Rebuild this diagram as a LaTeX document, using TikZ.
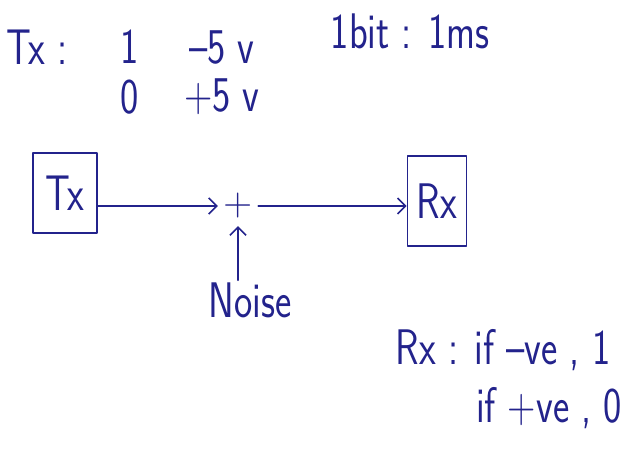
\documentclass[tikz,border=0pt]{standalone}
\usepackage{graphicx}
\usepackage{tikz}
\usetikzlibrary{arrows.meta,positioning}
\definecolor{pen}{RGB}{35,35,140}
\newcommand{\hw}[1]{\scalebox{0.97}[1.25]{#1}}

\begin{document}
\begin{tikzpicture}[x=1pt,y=-1pt,
  pen/.style={draw=pen,line width=1.6pt,line cap=round,line join=round},
  hand/.style={text=pen,font=\sffamily\fontsize{40}{44}\selectfont,inner sep=2pt},
  blk/.style={hand,pen},
  arr/.style={pen,-{Straight Barb[length=8pt,width=16pt,line width=1.6pt]}}]
  \useasboundingbox (0,0) rectangle (631,448);
  % Tx mapping and bit time
  \node[hand] (txmap) at (37,47) {\hw{Tx :}};
  \node[hand] (bitone) at (130,47) {\hw{1}};
  \node[hand] (vneg) at (222,47) {\hw{--5 v}};
  \node[hand] (bitzero) at (130,97) {\hw{0}};
  \node[hand] (vpos) at (222,97) {\hw{+5 v}};
  \node[hand] (bittime) at (410,31) {\hw{1bit : 1ms}};
  % channel
  \node[blk,minimum width=64pt,minimum height=80pt] (tx) at (65,193) {\hw{Tx}};
  \node[hand,minimum size=40pt] (sum) at (238,206) {+};
  \node[blk,minimum width=59pt,minimum height=90pt] (rx) at (437,201) {\hw{Rx}};
  \node[hand] (noise) at (250,300) {\hw{Noise}};
  \draw[arr] (tx.east |- sum) -- (sum);
  \draw[arr] (sum) -- (rx.west |- sum);
  \draw[arr] (noise.north -| sum.south) -- (sum.south);
  % Rx decision
  \node[hand] (rxrule) at (503,350) {\hw{Rx : if --ve , 1}};
  \node[hand] (rxrulb) at (549,408) {\hw{if +ve , 0}};
\end{tikzpicture}
\end{document}
